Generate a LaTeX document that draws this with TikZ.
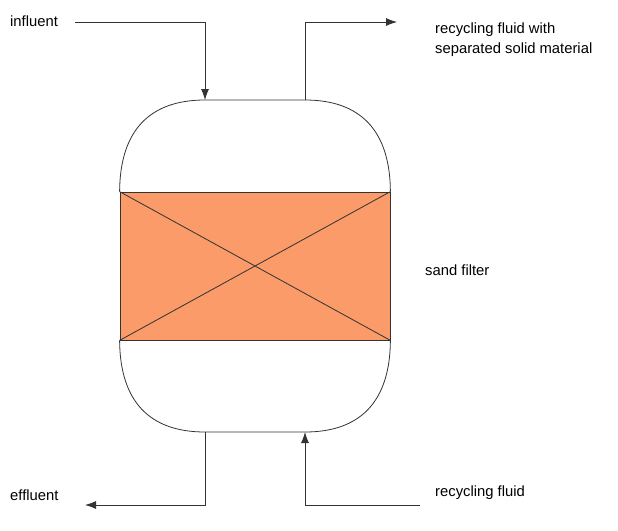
\documentclass[tikz,border=0pt]{standalone}
\usepackage{fontspec}
\setmainfont{Liberation Sans}
\usetikzlibrary{arrows.meta}
\begin{document}
\begin{tikzpicture}[x=1pt,y=-1pt,
  line/.style={draw=black!80,line width=0.8pt},
  arr/.style={line,-{Latex[length=11pt,width=8pt]}},
  lab/.style={font=\fontsize{14.8}{20}\selectfont,anchor=west,inner sep=0pt,align=left}]
\useasboundingbox (0,0) rectangle (618,530);
\coordinate (tl) at (205,100); \coordinate (tr) at (305,100);
\coordinate (bl) at (205,432); \coordinate (br) at (305,432);
\node[line,fill={rgb,255:red,250;green,155;blue,105},minimum width=270pt,minimum height=148pt,inner sep=0pt] (sf) at (255,266) {};
\draw[line] (sf.north west) -- (sf.south east) (sf.south west) -- (sf.north east);
\draw[line] (sf.north west) .. controls (120,130) and (150,100) .. (tl) -- (tr) .. controls (360,100) and (390,130) .. (sf.north east);
\draw[line] (sf.south west) .. controls (120,402) and (150,432) .. (bl) -- (br) .. controls (360,432) and (390,402) .. (sf.south east);
\node[lab] (inf) at (10,21) {influent};
\node[lab] (rec) at (435,40) {recycling fluid with\\separated solid material};
\node[lab] (sand) at (425,270) {sand filter};
\node[lab] (eff) at (10,495) {effluent};
\node[lab] (rin) at (435,493) {recycling fluid};
\coordinate (a1) at (75,22); \coordinate (a2) at (397,22);
\coordinate (b1) at (85,505); \coordinate (b2) at (420,505);
\draw[arr] (a1) -| (tl);
\draw[arr] (tr) |- (a2);
\draw[arr] (bl) |- (b1);
\draw[arr] (b2) -| (br);
\end{tikzpicture}
\end{document}
